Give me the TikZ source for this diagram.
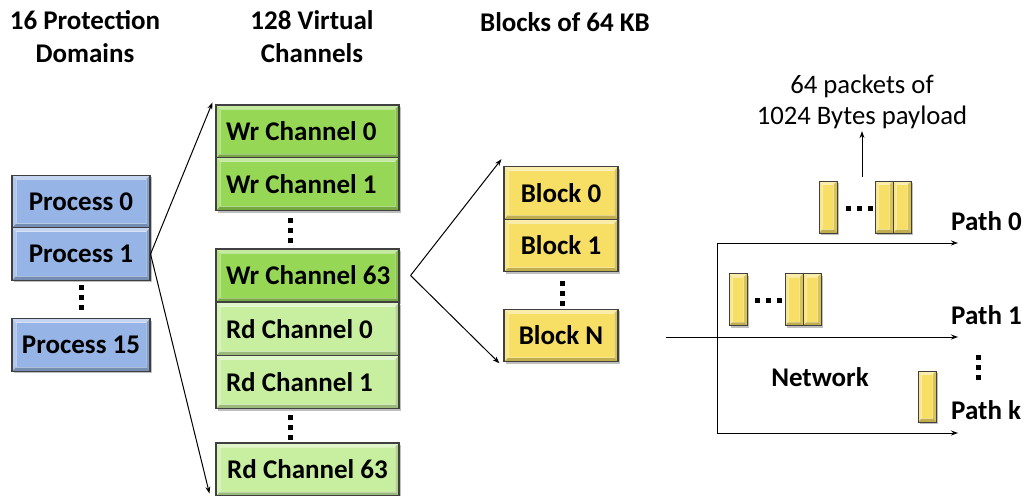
\documentclass[tikz,border=0pt]{standalone}
\usepackage{fontspec}
\setmainfont{Carlito}
\usetikzlibrary{arrows.meta,shadows,calc}

\definecolor{procblue}{RGB}{150,180,230}
\definecolor{wrgreen}{RGB}{150,215,85}
\definecolor{rdgreen}{RGB}{200,238,160}
\definecolor{blockyel}{RGB}{247,222,100}

% bevelled face painted inside a box: lighter top/left, darker bottom/right
\newcommand\bevelpaint[1]{%
  \path (path picture bounding box.north west) coordinate (o1)
        (path picture bounding box.north east) coordinate (o2)
        (path picture bounding box.south east) coordinate (o3)
        (path picture bounding box.south west) coordinate (o4);
  \path ([shift={(#1,-#1)}]o1) coordinate (i1)
        ([shift={(-#1,-#1)}]o2) coordinate (i2)
        ([shift={(-#1,#1)}]o3) coordinate (i3)
        ([shift={(#1,#1)}]o4) coordinate (i4);
  \fill[white,opacity=.45] (o1)--(o2)--(i2)--(i1)--cycle;
  \fill[white,opacity=.25] (o1)--(i1)--(i4)--(o4)--cycle;
  \fill[black,opacity=.12] (o2)--(o3)--(i3)--(i2)--cycle;
  \fill[black,opacity=.22] (o4)--(o3)--(i3)--(i4)--cycle;
  \draw[white,opacity=.35,line width=.8pt] (i1) rectangle (i3);
}
% channel label set flush left within the box
\newcommand\chanlabel[1]{\makebox[163pt][l]{#1}}

\tikzset{
  boxfont/.style={font=\bfseries\fontsize{27}{31}\selectfont},
  bevbox/.style={draw=black!75, line width=1.1pt, fill=#1, inner sep=0pt,
    boxfont, text=black,
    drop shadow={shadow xshift=2pt, shadow yshift=-2pt, opacity=.25, fill=black},
    path picture={\bevelpaint{4pt}}},
  procbox/.style={bevbox=procblue, minimum width=138pt, minimum height=52.5pt},
  chanbox/.style={bevbox=#1, minimum width=183pt, minimum height=53pt},
  blockbox/.style={bevbox=blockyel, minimum width=114pt, minimum height=52.5pt},
  packet/.style={draw=black!75, line width=1pt, fill=blockyel, inner sep=0pt,
    minimum width=18pt, minimum height=52pt,
    drop shadow={shadow xshift=2pt, shadow yshift=-2pt, opacity=.25, fill=black},
    path picture={\bevelpaint{3.5pt}}},
  hdr/.style={font=\bfseries\fontsize{27}{33}\selectfont, align=center, inner sep=0pt},
  arr/.style={line width=1pt, -{Stealth[length=7pt,width=5pt]}},
  plain/.style={line width=1pt},
  pathlbl/.style={font=\bfseries\fontsize{27}{31}\selectfont, anchor=west, inner sep=0pt},
}

% a vertical run of three square dots
\newcommand\vdotrun[2]{%
  \foreach \dy in {-10,0,10} {\fill ($(#1,#2)+(-2.5,\dy-2.5)$) rectangle ++(5,5);}}
% a horizontal run of three square dots
\newcommand\hdotrun[2]{%
  \foreach \dx in {-11,0,11} {\fill ($(#1,#2)+(\dx-2.5,-2.5)$) rectangle ++(5,5);}}

\begin{document}
\begin{tikzpicture}[x=1pt,y=-1pt]
\useasboundingbox (0,0) rectangle (1027,495);

% column headings
\node[hdr] (hpd) at (85,36.5) {16 Protection\\Domains};
\node[hdr] (hvc) at (312,36.5) {128 Virtual\\Channels};
\node[hdr] (hbl) at (565,22) {Blocks of 64 KB};

% processes
\node[procbox] (p0) at (81,201.5) {Process 0};
\node[procbox] (p1) at (81,254) {Process 1};
\vdotrun{81}{297}
\node[procbox] (p15) at (81,345) {Process 15};

% virtual channels
\node[chanbox=wrgreen] (wr0) at (307.5,131.5) {\chanlabel{Wr Channel 0}};
\node[chanbox=wrgreen] (wr1) at (307.5,184) {\chanlabel{Wr Channel 1}};
\vdotrun{290}{230}
\node[chanbox=wrgreen] (wr63) at (307.5,275.5) {\chanlabel{Wr Channel 63}};
\node[chanbox=rdgreen] (rd0) at (307.5,329) {\chanlabel{Rd Channel 0}};
\node[chanbox=rdgreen] (rd1) at (307.5,382) {\chanlabel{Rd Channel 1}};
\vdotrun{290}{427}
\node[chanbox=rdgreen] (rd63) at (307.5,469.5) {Rd Channel 63};

% blocks
\node[blockbox] (b0) at (561,193) {Block 0};
\node[blockbox] (b1) at (561,245.5) {Block 1};
\vdotrun{562}{293}
\node[blockbox] (bN) at (561,335.5) {Block N};

% fan-out from a process to its channels
\coordinate (chtop) at ([xshift=-3pt,yshift=2pt]wr0.north west);
\coordinate (chbot) at ([xshift=-6pt,yshift=3pt]rd63.south west);
\draw[arr] (p1.east) -- (chtop);
\draw[arr] (p1.east) -- (chbot);

% fan-out from a channel to its blocks
\coordinate (fork) at ([xshift=11pt]wr63.east);
\coordinate (bltop) at ([xshift=-2pt,yshift=7pt]b0.north west);
\coordinate (blbot) at ([xshift=-4pt,yshift=-1pt]bN.south west);
\draw[arr] (fork) -- (bltop);
\draw[arr] (fork) -- (blbot);

% network paths
\coordinate (n0) at (717,243);
\coordinate (nk) at (717,433);
\coordinate (in) at (666,337);
\coordinate (e0) at (958,243);
\coordinate (e1) at (958,337);
\coordinate (ek) at (958,433);
\draw[plain] (n0) -- (nk);
\draw[arr] (n0) -- (e0);
\draw[arr] (in) -- (e1);
\draw[arr] (nk) -- (ek);
\node[pathlbl] (l0) at (951,221) {Path 0};
\node[pathlbl] (l1) at (951,315) {Path 1};
\vdotrun{978}{367}
\node[pathlbl] (lk) at (951,410) {Path k};
\node[boxfont] (net) at (820,377) {Network};

% packets on path 0
\node[packet] (q0a) at (828,207) {};
\hdotrun{859}{208}
\node[packet] (q0b) at (884,207) {};
\node[packet] (q0c) at (902,207) {};
% packets on path 1
\node[packet] (q1a) at (738,299.5) {};
\hdotrun{768}{300}
\node[packet] (q1b) at (794,299.5) {};
\node[packet] (q1c) at (812,299.5) {};
% packet on path k
\node[packet, minimum height=51pt] (qka) at (927,396.5) {};

% packet size note
\node[font=\fontsize{26.7}{31}\selectfont, align=center, inner sep=2pt] (payload) at (862,102) {64 packets of\\1024 Bytes payload};
\coordinate (pkup) at (862,177);
\draw[arr] (pkup) -- (payload.south);
\end{tikzpicture}
\end{document}
